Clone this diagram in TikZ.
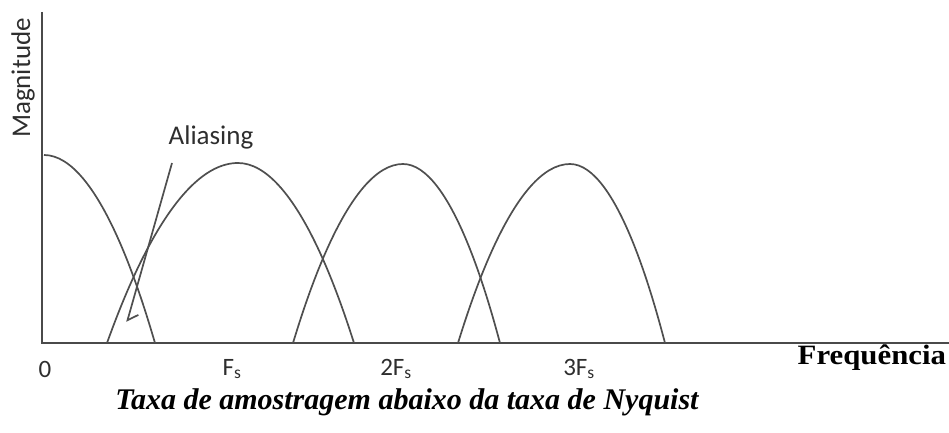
\documentclass[tikz,border=0pt]{standalone}
\usepackage{fontspec}
\setmainfont{Liberation Serif}
\newfontfamily\calfont{Carlito}
\usetikzlibrary{arrows.meta, positioning}
\definecolor{linegray}{HTML}{4F4F4F}
\definecolor{axisgray}{HTML}{4A4A4A}
\definecolor{labelgray}{HTML}{2E2E2E}

\begin{document}
\begin{tikzpicture}[x=1bp, y=-1bp,
		every node/.style={inner sep=0pt, outer sep=0pt},
		axisline/.style={draw=axisgray, line width=2.2bp},
		spectrum/.style={draw=linegray, line width=1.7bp},
		pointer/.style={draw=linegray, line width=1.7bp,
			-{Straight Barb[left, length=8bp, width=18bp]}},
		lbl/.style={font=\calfont\fontsize{27bp}{31bp}\selectfont, text=labelgray},
		ticklbl/.style={font=\calfont\fontsize{25bp}{29bp}\selectfont, text=labelgray},
		axislbl/.style={font=\bfseries\fontsize{28bp}{32bp}\selectfont, xscale=1.1},
		caption/.style={font=\bfseries\itshape\fontsize{30bp}{34bp}\selectfont},
		]
		\useasboundingbox (0,0) rectangle (949,433);

		% Axes
		\coordinate (ytop) at (42,12);
		\coordinate (origin) at (42,343);
		\coordinate (xend) at (949,343);
		\draw[axisline] (ytop) -- (origin) -- (xend);

		% Spectra
		\draw[spectrum] (44,155) parabola (155,343);
		\draw[spectrum] (107,343) parabola bend (238,163) (354,343);
		\draw[spectrum] (293,343) parabola bend (403,164) (500,343);
		\draw[spectrum] (458,343) parabola bend (570,164) (665,343);

		% Aliasing pointer
		\node[lbl] (alias) at (211,137) {Aliasing};
		\coordinate (aliastail) at (172,163);
		\coordinate (aliastip) at (127,322);
		\draw[pointer] (aliastail) -- (aliastip);

		% Labels
		\node[lbl, rotate=90] (mag) at (23,78) {Magnitude};
		\node[ticklbl] (t0) at (45,369) {0};
		\node[ticklbl] (t1) at (232,369) {F\textsubscript{s}};
		\node[ticklbl] (t2) at (396,369) {2F\textsubscript{s}};
		\node[ticklbl] (t3) at (579,369) {3F\textsubscript{s}};
		\node[axislbl, anchor=east] (freq) at (946,358) {Frequência};
		\node[caption] (title) at (407,402) {Taxa de amostragem abaixo da taxa de Nyquist};
	\end{tikzpicture}
\end{document}
